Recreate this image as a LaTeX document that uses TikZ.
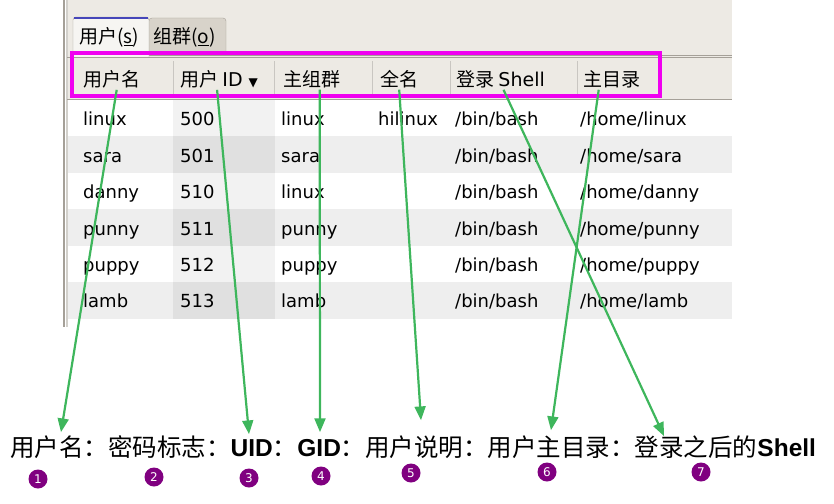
\documentclass[tikz,border=0pt]{standalone}
\usepackage{fontspec}
\setmainfont{DejaVu Sans}
\newfontfamily\cjk{Noto Sans CJK SC}
\newfontfamily\arial{Liberation Sans}
\usepackage{tikz}
\usetikzlibrary{arrows}

\definecolor{panel}{RGB}{237,234,228}
\definecolor{tabdark}{RGB}{216,211,202}
\definecolor{tablight}{RGB}{246,245,242}
\definecolor{frame}{RGB}{165,160,152}
\definecolor{stripe}{RGB}{238,238,238}
\definecolor{sortcol}{RGB}{242,242,242}
\definecolor{sortdark}{RGB}{224,224,224}
\definecolor{hilite}{RGB}{240,0,240}
\definecolor{pointer}{RGB}{62,182,92}
\definecolor{badge}{RGB}{128,0,128}

\begin{document}
\begin{tikzpicture}[x=1pt, y=-1pt,
					>=triangle 45,
					cell/.style={anchor=base west, inner sep=0pt, font=\fontsize{18}{18}\selectfont},
					head/.style={anchor=base west, inner sep=0pt, font=\cjk\fontsize{19}{19}\selectfont},
					tab/.style={anchor=base west, inner sep=0pt, font=\cjk\fontsize{19}{19}\selectfont},
					num/.style={circle, fill=badge, text=white, inner sep=0pt, minimum size=19pt, font=\fontsize{12}{12}\selectfont},
					ptr/.style={->, draw=pointer, fill=pointer, line width=2.2pt}]

	\useasboundingbox (0,0) rectangle (834,503);

	% window
	\fill[panel] (67,0) rectangle (732,99);
	\fill[white] (67,99) rectangle (732,327);
	\fill[stripe] (67,136) rectangle (732,173);
	\fill[stripe] (67,209) rectangle (732,246);
	\fill[stripe] (67,282) rectangle (732,319);
	\fill[sortcol] (173,99) rectangle (275,319);
	\fill[sortdark] (173,136) rectangle (275,173);
	\fill[sortdark] (173,209) rectangle (275,246);
	\fill[sortdark] (173,282) rectangle (275,319);
	\fill[frame] (63,0) rectangle (65,327);
	\fill[frame!50] (66,0) rectangle (68,327);

	% tabs
	\draw[frame] (149,55) -- (732,55);
	\filldraw[fill=tabdark, draw=frame, rounded corners=3pt] (149,55) -- (149,18) -- (226,18) -- (226,55);
	\filldraw[fill=tablight, draw=frame, rounded corners=3pt] (73,57) -- (73,17) -- (149,17) -- (149,57);
	\draw[blue!45!gray, line width=1.5pt, rounded corners=2pt] (74,18) -- (148,18);
	\node[tab] (tu) at (79,44) {用户(\underline{s})};
	\node[tab] (tg) at (153,44) {组群(\underline{o})};

	% header
	\draw[frame, line width=1pt] (67,57) -- (732,57);
	\draw[frame] (67,99) -- (732,99);
	\draw[frame!60] (173,61) -- (173,95) (274,61) -- (274,95) (372,61) -- (372,95)
		(450,61) -- (450,95) (577,61) -- (577,95);
	\node[head] (hname) at (83,86) {用户名};
	\node[head] (huid) at (180,86) {用户 {\fontspec{DejaVu Sans}ID {\fontsize{12}{12}\selectfont▼}}};
	\node[head] (hgid) at (283,86) {主组群};
	\node[head] (hfull) at (380,86) {全名};
	\node[head] (hshell) at (456,86) {登录 {\fontspec{DejaVu Sans}Shell}};
	\node[head] (hhome) at (583,86) {主目录};

	% rows
	\node[cell] (a1) at (83,125) {linux}; \node[cell] (b1) at (180,125) {500}; \node[cell] (c1) at (281,125) {linux};
	\node[cell] (d1) at (378,125) {hilinux}; \node[cell] (e1) at (455,125) {/bin/bash}; \node[cell] (f1) at (580,125) {/home/linux};
	\node[cell] (a2) at (83,162) {sara}; \node[cell] (b2) at (180,162) {501}; \node[cell] (c2) at (281,162) {sara};
	\node[cell] (e2) at (455,162) {/bin/bash}; \node[cell] (f2) at (580,162) {/home/sara};
	\node[cell] (a3) at (83,198) {danny}; \node[cell] (b3) at (180,198) {510}; \node[cell] (c3) at (281,198) {linux};
	\node[cell] (e3) at (455,198) {/bin/bash}; \node[cell] (f3) at (580,198) {/home/danny};
	\node[cell] (a4) at (83,235) {punny}; \node[cell] (b4) at (180,235) {511}; \node[cell] (c4) at (281,235) {punny};
	\node[cell] (e4) at (455,235) {/bin/bash}; \node[cell] (f4) at (580,235) {/home/punny};
	\node[cell] (a5) at (83,271) {puppy}; \node[cell] (b5) at (180,271) {512}; \node[cell] (c5) at (281,271) {puppy};
	\node[cell] (e5) at (455,271) {/bin/bash}; \node[cell] (f5) at (580,271) {/home/puppy};
	\node[cell] (a6) at (83,307) {lamb}; \node[cell] (b6) at (180,307) {513}; \node[cell] (c6) at (281,307) {lamb};
	\node[cell] (e6) at (455,307) {/bin/bash}; \node[cell] (f6) at (580,307) {/home/lamb};

	\draw[hilite, line width=4pt] (72,53) rectangle (660,96);

	% legend
	\node[anchor=base west, inner sep=0pt, font=\cjk\fontsize{24.5}{24.5}\selectfont] (legend) at (10,456)
		{用户名：密码标志：{\arial\bfseries UID}：{\arial\bfseries GID}：用户说明：用户主目录：登录之后的{\arial\bfseries Shell}};
	\coordinate (t1) at (61,432);
	\coordinate (t3) at (249,434);
	\coordinate (t4) at (320,432);
	\coordinate (t5) at (421,420);
	\coordinate (t6) at (551,430);
	\coordinate (t7) at (664,436);

	\draw[ptr] ([xshift=5pt, yshift=-2pt]hname.south) -- (t1);
	\draw[ptr] ([xshift=-2pt, yshift=-2pt]huid.south) -- (t3);
	\draw[ptr] ([xshift=8pt, yshift=-2pt]hgid.south) -- (t4);
	\draw[ptr] ([xshift=0pt, yshift=-2pt]hfull.south) -- (t5);
	\draw[ptr] ([xshift=-13pt, yshift=-2pt]hhome.south) -- (t6);
	\draw[ptr] ([xshift=3pt, yshift=-2pt]hshell.south) -- (t7);

	\node[num] (n1) at (38,479) {1};
	\node[num] (n2) at (154,477) {2};
	\node[num] (n3) at (249,478) {3};
	\node[num] (n4) at (321,476) {4};
	\node[num] (n5) at (411,473) {5};
	\node[num] (n6) at (547,472) {6};
	\node[num] (n7) at (701,472) {7};
\end{tikzpicture}
\end{document}
